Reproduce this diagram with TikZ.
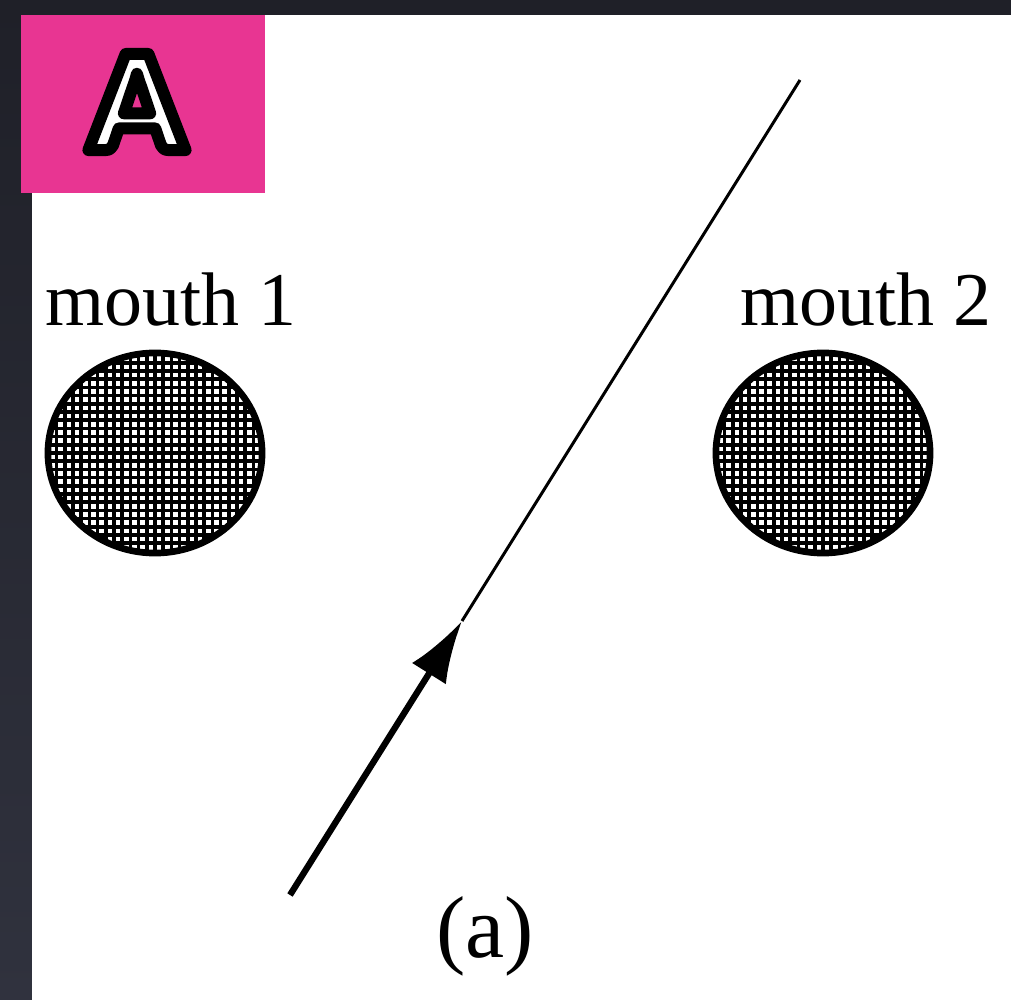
\documentclass[tikz,border=0pt]{standalone}
\usepackage{fontspec}
\setmainfont{Liberation Serif}
\newfontfamily\tagfont{Lato Black}
\usepackage{tikz}
\usetikzlibrary{arrows.meta}
\definecolor{frame}{RGB}{31,32,40}
\definecolor{framelow}{RGB}{48,50,62}
\definecolor{tagpink}{RGB}{232,53,146}
% outlined letter: white fill, black stroke
\newcommand{\outlined}[1]{{\color{white}\special{pdf:literal direct 0 G 2 Tr 1 j 3.4 w}#1\special{pdf:literal direct 0 Tr}}}

\begin{document}
\begin{tikzpicture}[
    x=0.01cm, y=-0.01cm,
    >=Latex,
    label/.style={font=\fontsize{21.6}{24}\selectfont, anchor=base, inner sep=0pt},
    rim/.style={line width=1.9pt},
    hatch/.style={line width=1.05pt},
    ray/.style={line width=0.85pt},
    rayin/.style={line width=1.8pt},
  ]
    % ---------- frame ----------
    \shade[top color=frame, bottom color=framelow] (0,0) rectangle (1011,1000);
    \fill[white] (32,15) rectangle (1011,1000);
    \useasboundingbox (0,0) rectangle (1011,1000);

    \fill[tagpink] (21,15) rectangle (265,193);
    \node[font=\tagfont\fontsize{37.5}{40}\selectfont, inner sep=0pt] (tag) at (137,102)
      {\outlined{A}};

    % ---------- mouths ----------
    \foreach \cx/\nm in {155/m1, 823/m2} {
      \coordinate (\nm) at (\cx,453);
      \begin{scope}
        \clip (\nm) ellipse [x radius=1.07cm, y radius=1cm];
        \foreach \k in {-13,...,13} {
          \draw[hatch] (\cx+\k*8.2,340) -- (\cx+\k*8.2,566);
          \draw[hatch] (\cx-120,453+\k*8.2) -- (\cx+120,453+\k*8.2);
        }
      \end{scope}
      \draw[rim] (\nm) ellipse [x radius=1.07cm, y radius=1cm];
    }
    \node[label] (lab1) at (171,325) {mouth 1};
    \node[label] (lab2) at (866,325) {mouth 2};

    % ---------- ray ----------
    \coordinate (start) at (290,895);
    \coordinate (tip)   at (462,621);
    \coordinate (far)   at (800,80);
    \draw[rayin, -{Latex[length=6.2mm, width=4mm]}] (start) -- (tip);
    \draw[ray] (tip) -- (far);

    \node[font=\fontsize{25}{28}\selectfont, anchor=base, inner sep=0pt] (cap) at (485,957) {(a)};
  \end{tikzpicture}
\end{document}
